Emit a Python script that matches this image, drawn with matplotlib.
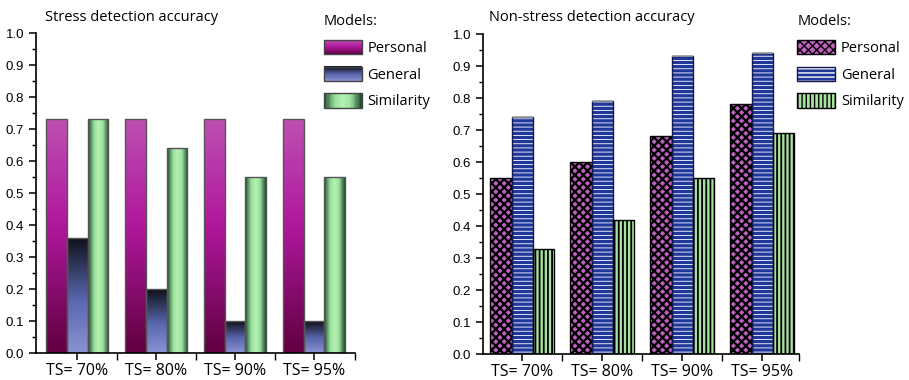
import numpy as np
import matplotlib
matplotlib.use('Agg')
import matplotlib.pyplot as plt
from matplotlib.colors import LinearSegmentedColormap
from matplotlib.patches import Rectangle, Patch
from matplotlib.legend_handler import HandlerBase, HandlerTuple
from matplotlib.ticker import MultipleLocator, FixedLocator

categories = ['TS= 70%', 'TS= 80%', 'TS= 90%', 'TS= 95%']
models = ['Personal', 'General', 'Similarity']

stress_personal = [0.73, 0.73, 0.73, 0.73]
stress_general = [0.36, 0.20, 0.10, 0.10]
stress_similarity = [0.73, 0.64, 0.55, 0.55]

nonstress_personal = [0.55, 0.60, 0.68, 0.78]
nonstress_general = [0.74, 0.79, 0.93, 0.94]
nonstress_similarity = [0.33, 0.42, 0.55, 0.69]

TXT = 'Open Sans'

# gradient colour maps (left chart)
cm_personal = LinearSegmentedColormap.from_list('p', [(0, '#600040'), (0.55, '#b0189e'), (1, '#bd50b2')])
cm_general = LinearSegmentedColormap.from_list('g', [(0, '#8a92d2'), (0.45, '#5a68b0'), (1, '#101018')])
cm_similar = LinearSegmentedColormap.from_list('s', [(0, '#1a4a30'), (0.3, '#9be09b'),
                                                     (0.5, '#b4f2b4'), (0.72, '#9be09b'), (1, '#1a4a30')])
grads = [(cm_personal, True), (cm_general, True), (cm_similar, False)]


class GradHandler(HandlerBase):
    def __init__(self, cmap, vertical):
        super().__init__()
        self.cmap = cmap
        self.vertical = vertical

    def create_artists(self, legend, orig_handle, xdescent, ydescent, width, height, fontsize, trans):
        n = 30
        arts = []
        for i in range(n):
            c = self.cmap((i + 0.5) / n)
            if self.vertical:
                r = Rectangle((-xdescent, -ydescent + height * i / n), width, height / n + 0.3,
                              facecolor=c, edgecolor='none', transform=trans)
            else:
                r = Rectangle((-xdescent + width * i / n, -ydescent), width / n + 0.3, height,
                              facecolor=c, edgecolor='none', transform=trans)
            arts.append(r)
        arts.append(Rectangle((-xdescent, -ydescent), width, height, facecolor='none',
                              edgecolor='#444444', lw=1, transform=trans))
        return arts


def gradient_fill(ax, patch, cmap, vertical):
    x, w, h = patch.get_x(), patch.get_width(), patch.get_height()
    g = np.linspace(0, 1, 256)
    if vertical:
        img = g.reshape(-1, 1)
    else:
        img = g.reshape(1, -1)
    im = ax.imshow(img, cmap=cmap, origin='lower', aspect='auto',
                   extent=(x, x + w, 0, h), zorder=1, interpolation='bilinear')
    im.set_clip_path(patch)


def style_axes(ax, xmin, xmax):
    ax.set_ylim(0, 1.0)
    ax.set_xlim(xmin, xmax)
    for s in ['top', 'right']:
        ax.spines[s].set_visible(False)
    for s in ['left', 'bottom']:
        ax.spines[s].set_linewidth(1.2)
    ax.yaxis.set_minor_locator(MultipleLocator(0.05))
    ax.set_yticks(np.arange(0, 1.01, 0.1))
    ax.set_yticklabels([f'{v:.1f}' for v in np.arange(0, 1.01, 0.1)],
                       family='Liberation Sans', fontsize=9.5)
    ax.set_xticks(x)
    ax.set_xticklabels(categories, family=TXT, fontsize=11.5)
    ax.xaxis.set_minor_locator(FixedLocator([1.5, 2.5, 3.5, xmax]))
    ax.tick_params(axis='both', which='major', direction='out', length=5, width=1.1)
    ax.tick_params(axis='both', which='minor', direction='out', length=3, width=1.0)
    ax.tick_params(axis='x', which='minor', length=5)
    ax.tick_params(axis='x', pad=2)


fig = plt.figure(figsize=(9.09, 3.80), dpi=100)
ax1 = fig.add_axes([0.0396, 0.071, 0.351, 0.842])
ax2 = fig.add_axes([0.5314, 0.068, 0.3476, 0.8425])

x = np.arange(1, 5)
bw = 0.265

# left chart: gradient bars
left_data = [stress_personal, stress_general, stress_similarity]
handles = []
for k, vals in enumerate(left_data):
    bars = ax1.bar(x + (k - 1) * bw, vals, bw, facecolor='none', edgecolor='#555555',
                   linewidth=1.0, zorder=2, label=models[k])
    for p in bars.patches:
        gradient_fill(ax1, p, *grads[k])
    handles.append(bars.patches[0])
style_axes(ax1, 0.48, 4.52)

fig.text(0.0495, 0.945, 'Stress detection accuracy', family=TXT, fontsize=10.5)
fig.legend(handles, models, loc='upper left', bbox_to_anchor=(0.356, 0.962),
           frameon=False, title='Models:', alignment='left',
           prop={'family': TXT, 'size': 10.5}, title_fontproperties={'family': TXT, 'size': 10.5},
           handlelength=2.6, handleheight=1.15, labelspacing=0.72, handletextpad=0.4,
           borderpad=0, borderaxespad=0,
           handler_map={h: GradHandler(*grads[i]) for i, h in enumerate(handles)})

# right chart: hatched bars (fill + hatch first, outline on top)
right_data = [nonstress_personal, nonstress_general, nonstress_similarity]
faces = ['#c060c0', '#22379a', '#a8e2a0']
hatch_cols = ['black', 'white', 'black']
hatches = ['xxxx', '----', '||||']
hatch_lw = [1.6, 0.6, 1.3]
outline_cols = ['black', '#111a4a', 'black']
proxies = []
for k, vals in enumerate(right_data):
    with plt.rc_context({'hatch.linewidth': hatch_lw[k]}):
        ax2.bar(x + (k - 1) * bw, vals, bw, facecolor=faces[k], edgecolor=hatch_cols[k],
                hatch=hatches[k], linewidth=0, zorder=2)
        fill = Patch(facecolor=faces[k], edgecolor=hatch_cols[k], hatch=hatches[k], linewidth=0)
    ax2.bar(x + (k - 1) * bw, vals, bw, facecolor='none', edgecolor=outline_cols[k],
            linewidth=1.0, zorder=3)
    proxies.append((fill, Patch(facecolor='none', edgecolor=outline_cols[k], linewidth=1.0)))
# grey cap on top of the General bars
ax2.hlines(nonstress_general, x - bw / 2, x + bw / 2, colors='#a0a0a0', linewidth=1.2, zorder=4)
style_axes(ax2, 0.51, 4.46)

fig.text(0.538, 0.945, 'Non-stress detection accuracy', family=TXT, fontsize=10.5)
fig.legend(proxies, models, loc='upper left', bbox_to_anchor=(0.877, 0.962),
           frameon=False, title='Models:', alignment='left',
           prop={'family': TXT, 'size': 10.5}, title_fontproperties={'family': TXT, 'size': 10.5},
           handlelength=2.6, handleheight=1.15, labelspacing=0.72, handletextpad=0.4,
           borderpad=0, borderaxespad=0,
           handler_map={tuple: HandlerTuple(ndivide=1, pad=0)})

fig.savefig('out.png', dpi=100)
